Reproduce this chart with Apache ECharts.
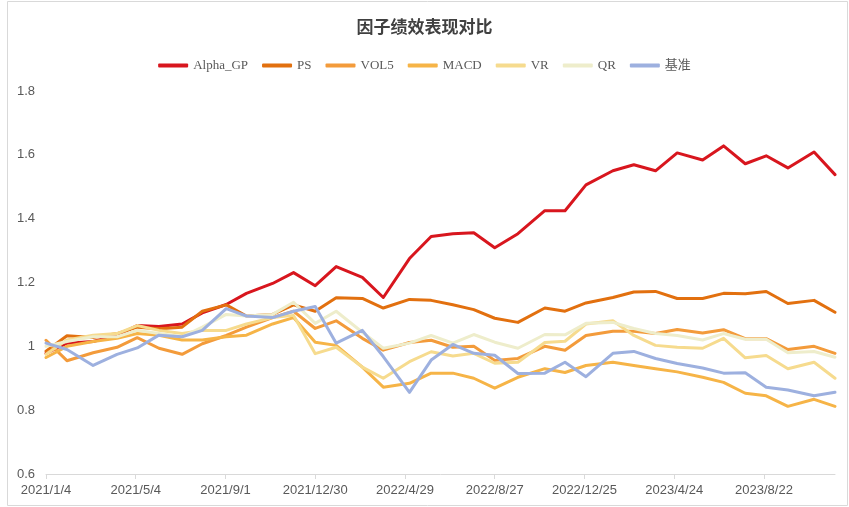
<!DOCTYPE html>
<html>
<head>
<meta charset="utf-8">
<script src="https://cdn.jsdelivr.net/npm/echarts@6/dist/echarts.min.js"></script>
<style>html,body{margin:0;padding:0;background:#fff;}#c{width:849px;height:507px;}</style>
</head>
<body>
<div id="c"></div>
<script>
// ---- data ----
const dates = ['2021/1/4','2021/2/1','2021/3/8','2021/4/9','2021/5/6','2021/6/4','2021/7/5','2021/8/1','2021/9/2','2021/9/29','2021/11/3','2021/12/1',
  '2021/12/30','2022/1/27','2022/3/3','2022/3/31','2022/5/5','2022/6/3','2022/7/2','2022/7/30','2022/8/27','2022/9/27','2022/11/2','2022/11/29',
  '2022/12/27','2023/2/1','2023/3/1','2023/3/30','2023/4/28','2023/6/1','2023/6/29','2023/7/28','2023/8/25','2023/9/23','2023/10/28','2023/11/25'];
const alphaGP = [0.978,1.010,1.015,1.035,1.065,1.062,1.070,1.105,1.131,1.166,1.197,1.231,1.190,1.250,1.216,1.153,1.275,1.344,1.353,1.356,1.309,1.353,1.425,1.425,1.506,1.550,1.569,1.550,1.606,1.584,1.628,1.572,1.597,1.559,1.609,1.538];
const ps      = [0.985,1.033,1.028,1.040,1.060,1.055,1.060,1.110,1.130,1.095,1.100,1.130,1.110,1.152,1.150,1.120,1.147,1.144,1.130,1.115,1.088,1.075,1.120,1.110,1.136,1.153,1.170,1.172,1.150,1.150,1.166,1.165,1.172,1.134,1.144,1.107];
const vol5    = [1.019,0.955,0.980,0.997,1.027,0.994,0.975,1.008,1.034,1.060,1.090,1.110,1.056,1.080,1.025,0.988,1.012,1.019,0.997,1.000,0.956,0.962,1.000,0.988,1.034,1.047,1.047,1.040,1.053,1.042,1.052,1.024,1.024,0.990,1.000,0.978];
const macd    = [0.965,1.000,1.015,1.025,1.040,1.035,1.020,1.020,1.030,1.035,1.070,1.090,1.013,1.003,0.935,0.872,0.884,0.916,0.916,0.900,0.869,0.903,0.930,0.918,0.940,0.950,0.940,0.930,0.920,0.903,0.887,0.853,0.845,0.812,0.834,0.812];
const vr      = [0.975,1.020,1.035,1.040,1.065,1.050,1.040,1.050,1.050,1.070,1.090,1.097,0.977,0.997,0.935,0.900,0.952,0.983,0.970,0.978,0.947,0.950,1.012,1.016,1.070,1.080,1.034,1.003,0.997,0.994,1.025,0.964,0.971,0.930,0.950,0.900];
const qr      = [1.000,1.015,1.030,1.030,1.050,1.040,1.030,1.060,1.100,1.095,1.100,1.138,1.072,1.110,1.044,0.994,1.010,1.034,1.010,1.037,1.013,0.994,1.037,1.036,1.072,1.075,1.056,1.040,1.034,1.020,1.040,1.022,1.022,0.980,0.984,0.966];
const bench   = [1.010,0.990,0.940,0.975,0.995,1.035,1.030,1.050,1.118,1.095,1.090,1.110,1.125,1.010,1.050,0.968,0.856,0.957,1.006,0.978,0.972,0.915,0.916,0.950,0.905,0.978,0.984,0.962,0.946,0.932,0.916,0.917,0.872,0.863,0.845,0.856];
const tickLabels = ['2021/1/4','2021/5/4','2021/9/1','2021/12/30','2022/4/29','2022/8/27','2022/12/25','2023/4/24','2023/8/22'];
const seriesNames = ['Alpha_GP','PS','VOL5','MACD','VR','QR','基准'];
const seriesColors = ['#D8161E','#E2700F','#F39B3B','#F6B447','#F6DB8E','#EEEDCB','#9DB0DF'];

// ---- helpers ----
function dayNum(s){ const p = s.split('/').map(Number); return Date.UTC(p[0], p[1]-1, p[2]) / 86400000; }
const d0 = dayNum(dates[0]);
const xs = dates.map(s => dayNum(s) - d0);
const tickVals = tickLabels.map(s => dayNum(s) - d0);
const labelMap = {};
tickVals.forEach((v,i) => labelMap[v] = tickLabels[i]);
const allSeries = [alphaGP, ps, vol5, macd, vr, qr, bench];

const chart = echarts.init(document.getElementById('c'), null, {renderer:'canvas'});
chart.setOption({
  animation: false,
  backgroundColor: '#fff',
  graphic: [{type:'rect', shape:{x:7.5,y:1.5,width:840,height:504}, style:{fill:'none', stroke:'#d9d9d9', lineWidth:1}, silent:true, z:-1}],
  title: {
    text: '因子绩效表现对比', left: 'center', top: 13,
    textStyle: {fontFamily:'"Noto Sans CJK SC"', fontSize:17, fontWeight:'bold', color:'#404040'}
  },
  legend: {
    top: 54, left: 'center', itemWidth: 30, itemHeight: 4, itemGap: 14,
    icon: 'roundRect',
    textStyle: {fontFamily:'"Liberation Serif","Noto Sans CJK SC"', fontSize:13, color:'#595959'},
    data: seriesNames
  },
  grid: {left:46, right:14, top:91, bottom:33, containLabel:false},
  xAxis: {
    type:'value', min:0, max: xs[xs.length-1],
    axisLine:{show:true, lineStyle:{color:'#d9d9d9', width:1}},
    axisTick:{show:true, customValues: tickVals, length:5, lineStyle:{color:'#d9d9d9'}},
    axisLabel:{customValues: tickVals, formatter: v => labelMap[v] || '', fontFamily:'"Liberation Sans"', fontSize:13, color:'#595959', margin:10},
    splitLine:{show:false}
  },
  yAxis: {
    type:'value', min:0.6, max:1.8, interval:0.2,
    axisLine:{show:false}, axisTick:{show:false}, splitLine:{show:false},
    axisLabel:{fontFamily:'"Liberation Sans"', fontSize:13, color:'#595959', margin:11, formatter: v => String(Math.round(v*10)/10)}
  },
  series: allSeries.map((arr,i) => ({
    name: seriesNames[i], type:'line', showSymbol:false, symbol:'none',
    lineStyle:{width:3, color:seriesColors[i], cap:'round', join:'round'},
    itemStyle:{color:seriesColors[i]},
    data: arr.map((v,j) => [xs[j], v])
  }))
});
</script>
</body>
</html>
